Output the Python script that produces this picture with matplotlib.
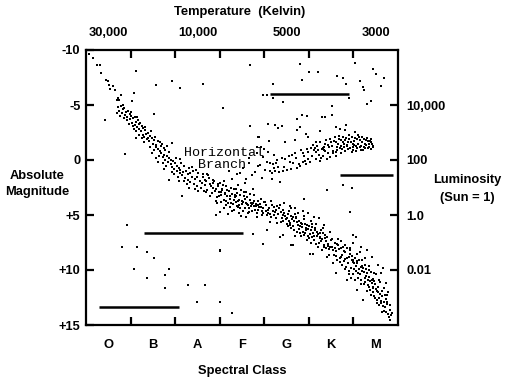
import numpy as np
import matplotlib
matplotlib.use("Agg")
import matplotlib.pyplot as plt

# --- data: (spectral position on a 0..7 scale, absolute magnitude) ---
upper_main_seq = [
    (0.07, -9.6), (0.15, -9.3), (0.24, -8.6), (0.31, -8.6), (0.34, -7.9), (0.45, -7.3),
    (0.49, -7.2), (0.52, -6.8), (0.54, -6.5), (0.60, -6.7), (0.64, -6.4), (0.71, -5.6),
    (0.75, -5.5), (0.69, -5.5), (0.79, -5.9), (1.03, -5.4),
    (0.72, -4.8), (0.78, -4.9), (0.74, -4.5), (0.82, -4.6), (0.86, -4.7), (0.80, -4.3),
    (0.90, -4.4), (0.95, -4.5), (0.88, -4.1), (0.98, -4.2), (1.02, -4.0), (0.93, -3.9),
    (1.06, -3.8), (0.99, -3.7), (1.10, -3.9), (1.12, -3.5), (1.04, -3.4), (1.17, -3.6),
    (1.09, -3.2), (1.20, -3.3), (1.14, -3.0), (1.25, -3.1), (1.18, -2.8), (1.28, -2.9),
    (1.23, -2.6), (1.32, -2.7), (1.35, -2.4), (1.27, -2.3), (1.40, -2.5), (1.30, -2.1),
    (1.44, -2.2), (1.36, -1.9), (1.48, -2.0), (1.42, -1.7), (1.52, -1.8), (1.50, -1.5),
    (1.58, -1.4), (1.66, -1.6), (1.58, -1.2), (1.68, -1.3), (1.62, -1.0), (1.74, -1.1),
    (1.66, -0.8), (1.78, -0.9),
    (0.70, -4.3), (0.84, -5.0), (0.76, -4.0), (0.91, -3.6), (1.00, -4.4), (0.85, -3.8),
    (1.05, -3.1), (1.15, -3.9), (0.97, -3.3), (1.13, -2.6), (1.22, -3.4), (1.08, -2.8),
    (1.26, -2.0), (1.33, -3.0), (1.19, -2.3), (1.38, -2.0), (1.45, -2.6), (1.31, -1.6),
    (1.55, -2.1), (1.43, -1.2), (1.61, -1.7), (1.53, -0.9), (1.70, -1.5), (1.49, -0.6),
    (1.64, -0.4), (1.81, -1.3), (1.57, -0.2), (1.73, 0.3), (1.87, -0.7), (1.62, 0.2),
]

main_seq_b = [
    (1.68, -0.6), (1.76, -0.5), (1.72, -0.3), (1.82, -0.4), (1.86, -0.2), (1.78, 0.0),
    (1.90, 0.0), (1.84, 0.2), (1.95, 0.1), (1.90, 0.4), (1.99, 0.3), (1.80, 0.5),
    (1.94, 0.6), (2.04, 0.5), (2.09, 0.7), (1.98, 0.8), (2.12, 0.9), (2.04, 1.0),
    (2.18, 1.1), (2.24, 1.0), (2.10, 1.2), (2.28, 1.3), (2.16, 1.4), (2.34, 1.2),
    (2.22, 1.6), (2.38, 1.5), (2.28, 1.8), (2.44, 1.7), (2.50, 1.5), (2.34, 2.0),
    (2.55, 1.9), (2.42, 2.2), (2.60, 2.1), (2.66, 1.8), (2.48, 2.4), (1.92, 1.1),
    (2.30, 0.7), (2.40, 1.0), (2.20, 0.5), (2.52, 1.2), (2.06, 1.5), (2.14, 0.3),
    (1.87, 1.8), (2.15, 3.3),
    (1.76, 0.8), (2.01, -0.2), (2.08, 1.9), (2.26, 2.2), (2.37, 0.6), (2.19, 1.9),
    (2.47, 0.9), (2.58, 2.5), (2.32, 2.5), (2.63, 1.3), (2.70, 2.9), (2.52, 2.8),
    (1.97, 1.3), (2.11, -0.1), (2.44, 2.6), (2.74, 1.4),
]

main_seq_c = [
    (2.62, 1.5), (2.66, 2.3), (2.70, 1.9), (2.72, 2.7), (2.76, 1.6), (2.78, 2.2),
    (2.82, 3.0), (2.85, 2.5), (2.88, 1.9), (2.90, 2.8), (2.93, 3.4), (2.96, 2.4),
    (2.98, 2.9), (3.01, 2.1), (3.04, 3.2), (3.06, 2.7), (3.09, 3.6), (3.11, 3.0),
    (3.14, 2.4), (3.16, 3.3), (3.19, 3.9), (3.21, 2.8), (3.24, 3.5), (3.27, 3.1),
    (3.29, 4.0), (3.31, 2.6), (3.34, 3.4), (3.36, 3.8), (3.39, 3.0), (3.41, 4.3),
    (3.44, 3.6), (3.46, 3.2), (3.49, 4.0), (3.51, 3.7), (3.54, 2.9), (3.56, 4.4),
    (3.59, 3.9), (3.61, 3.4), (3.64, 4.1), (3.66, 4.7), (3.69, 3.6), (3.71, 4.2),
    (3.74, 3.9), (3.76, 3.2), (3.79, 4.5), (3.81, 4.0), (3.84, 4.8), (3.86, 3.7),
    (3.89, 4.3), (3.91, 4.0), (3.94, 5.0), (3.96, 4.4), (3.99, 3.8),
    (3.12, 3.1), (3.22, 3.3), (3.32, 3.6), (3.42, 3.7), (3.52, 3.8), (3.62, 4.0),
    (3.72, 4.0), (3.82, 4.2), (3.92, 4.3), (3.02, 2.9), (2.92, 2.6), (2.80, 2.4),
    (3.47, 5.1), (3.28, 4.6), (3.60, 5.2), (2.95, 3.9), (3.36, 2.6), (3.58, 2.9),
    (2.92, 5.0), (3.00, 4.7), (3.18, 4.9), (3.43, 4.8), (3.10, 4.4),
    (2.64, 2.8), (2.71, 1.3), (2.79, 3.3), (2.86, 1.8), (2.91, 3.7), (2.97, 2.2),
    (3.03, 3.8), (3.07, 2.3), (3.13, 4.1), (3.17, 2.7), (3.23, 4.3), (3.26, 2.5),
    (3.33, 4.5), (3.37, 3.3), (3.43, 4.1), (3.48, 2.7), (3.53, 4.6), (3.57, 3.5),
    (3.63, 4.8), (3.67, 3.1), (3.73, 4.6), (3.77, 3.7), (3.83, 5.2), (3.87, 4.1),
    (3.93, 3.5), (3.97, 4.8), (3.05, 2.6), (3.15, 3.7), (3.25, 3.9), (3.35, 3.2),
    (3.45, 4.4), (3.55, 3.3), (3.65, 4.4), (3.70, 3.9), (3.78, 4.2), (3.85, 4.5),
    (3.95, 4.6), (2.84, 2.1), (2.99, 3.3), (3.38, 4.2),
]

main_seq_d = [
    (4.03, 4.1), (4.37, 5.6), (4.71, 5.2), (5.18, 6.9), (4.09, 4.8), (4.56, 4.6),
    (4.92, 6.6), (5.41, 7.0), (4.22, 4.3), (4.83, 5.7), (5.06, 5.8), (5.33, 7.9),
    (4.14, 3.7), (4.48, 5.4), (4.97, 6.9), (5.27, 6.4), (4.31, 4.9), (4.64, 6.0),
    (5.12, 7.3), (5.46, 8.1), (4.06, 5.0), (4.43, 4.5), (4.78, 6.3), (5.23, 7.5),
    (4.19, 4.6), (4.59, 5.1), (4.88, 5.4), (5.37, 6.8), (4.27, 5.3), (4.69, 4.9),
    (5.01, 7.1), (5.49, 7.3), (4.11, 4.4), (4.52, 5.8), (4.95, 5.9), (5.14, 6.2),
    (4.35, 4.1), (4.74, 5.6), (5.09, 6.6), (5.44, 7.6), (4.02, 3.8), (4.41, 5.0),
    (4.86, 6.5), (5.29, 7.2), (4.24, 4.7), (4.62, 5.4), (5.04, 6.4), (5.39, 7.4),
    (4.16, 5.2), (4.54, 4.9), (4.81, 6.0), (5.21, 6.7), (4.33, 4.4), (4.67, 5.5),
    (4.99, 6.3), (5.31, 6.6), (4.08, 4.5), (4.47, 5.1), (4.91, 5.8), (5.16, 7.6),
    (4.29, 4.2), (4.76, 5.9), (5.11, 6.9), (5.47, 7.9), (4.13, 4.9), (4.58, 5.7),
    (4.84, 6.1), (5.26, 7.0), (4.38, 4.7), (4.72, 5.3), (5.07, 6.1), (5.35, 7.7),
    (4.21, 5.0), (4.61, 6.2), (4.94, 6.2), (5.19, 6.5), (4.45, 4.8), (4.79, 5.5),
    (5.02, 6.7), (5.42, 7.8), (4.26, 4.5), (4.65, 5.2), (4.89, 6.8), (5.24, 7.1),
    (4.04, 4.6), (4.50, 5.3), (4.85, 5.8), (5.13, 6.4), (4.39, 5.3), (4.73, 6.5),
    (5.08, 7.0), (5.36, 7.1), (4.18, 4.1), (4.55, 5.5), (4.93, 6.4), (5.28, 7.4),
    (4.65, 7.7), (5.03, 8.5), (3.75, 6.7), (4.05, 6.4), (3.98, 7.6), (3.00, 8.2),
    (4.35, 7.0), (4.61, 7.7), (5.10, 8.5), (4.43, 6.8),
    (4.44, 3.9), (4.68, 4.4), (4.98, 4.8), (5.22, 5.3), (4.87, 4.6), (5.34, 5.9),
    (4.57, 4.2), (5.11, 5.2),
    (4.53, 6.0), (4.66, 6.4), (4.82, 6.9), (4.96, 7.3), (5.05, 7.5), (5.20, 7.9),
    (5.30, 8.2), (5.45, 8.6), (4.60, 4.4), (4.75, 4.8), (4.90, 5.1), (5.04, 5.5),
    (5.17, 5.8), (5.32, 6.2), (5.48, 6.5), (4.42, 5.5), (4.57, 5.9), (4.80, 6.6),
    (5.00, 6.0), (5.25, 6.6), (5.38, 8.0), (4.28, 5.7), (4.13, 5.6), (4.70, 6.9),
]

main_seq_e = [
    (5.53, 7.2), (5.88, 9.4), (6.21, 9.8), (6.47, 11.0), (5.61, 8.3), (5.97, 8.7),
    (6.33, 11.4), (6.58, 12.5), (5.72, 7.4), (6.06, 10.1), (6.39, 10.2), (6.71, 13.4),
    (5.57, 8.6), (5.92, 8.2), (6.26, 11.1), (6.53, 12.7), (5.66, 7.7), (6.01, 9.9),
    (6.35, 10.6), (6.63, 11.9), (5.79, 9.2), (6.13, 9.1), (6.44, 12.0), (6.77, 14.0),
    (5.51, 7.9), (5.85, 8.0), (6.18, 10.9), (6.49, 11.3), (5.69, 8.9), (6.09, 9.4),
    (6.41, 10.9), (6.68, 12.9), (5.76, 7.9), (6.15, 10.4), (6.29, 9.9), (6.56, 11.5),
    (5.63, 9.1), (5.99, 9.3), (6.37, 11.8), (6.61, 13.0), (5.81, 8.4), (6.03, 8.9),
    (6.24, 10.2), (6.73, 12.6), (5.59, 7.5), (5.94, 9.8), (6.31, 10.3), (6.52, 11.9),
    (5.74, 8.6), (6.11, 10.7), (6.45, 11.5), (6.66, 13.3), (5.55, 8.2), (5.90, 8.8),
    (6.19, 9.6), (6.81, 13.6), (5.83, 9.7), (6.07, 9.2), (6.42, 11.2), (6.59, 12.2),
    (5.67, 8.1), (6.00, 10.4), (6.27, 10.7), (6.75, 13.1), (5.78, 8.3), (6.16, 9.7),
    (6.38, 11.0), (6.64, 12.4), (5.86, 8.9), (6.05, 9.6), (6.34, 10.0), (6.84, 14.1),
    (5.64, 7.6), (5.96, 9.1), (6.23, 11.3), (6.50, 11.7), (5.71, 8.8), (6.12, 9.9),
    (6.46, 12.4), (6.70, 12.3), (5.89, 10.1), (6.20, 10.1), (6.36, 11.5), (6.79, 14.3),
    (5.58, 8.0), (5.93, 8.5), (6.28, 10.5), (6.55, 12.0), (5.82, 9.0), (6.10, 10.3),
    (6.43, 11.6), (6.62, 12.8), (5.75, 9.5), (6.02, 9.4), (6.32, 10.9), (6.72, 13.8),
    (6.86, 13.9), (6.82, 14.5), (6.69, 13.7), (6.76, 12.9), (6.57, 13.2), (6.48, 12.5),
    (6.30, 8.2), (6.41, 8.8), (6.55, 9.5), (6.67, 9.8), (6.62, 10.3), (6.72, 11.2),
    (6.78, 12.0), (6.05, 7.0), (6.18, 7.9), (5.98, 7.5), (5.40, 8.8), (5.55, 9.4),
    (5.85, 10.9), (6.07, 11.8), (5.62, 10.3), (6.22, 12.7), (6.00, 6.8), (6.51, 10.4),
    (6.60, 11.1), (6.25, 8.9), (6.14, 8.4), (5.95, 10.7),
    (5.60, 8.7), (5.70, 9.3), (5.80, 9.9), (5.91, 10.4), (6.04, 10.9), (6.17, 11.3),
    (6.30, 11.9), (6.40, 12.3), (6.52, 13.0), (6.65, 13.8), (5.65, 7.2), (5.80, 7.7),
    (5.92, 8.0), (6.08, 8.5), (6.20, 9.1), (6.35, 9.6), (6.46, 10.3), (6.58, 10.9),
    (6.68, 11.6), (6.75, 12.3), (6.83, 13.2), (5.73, 8.0), (6.00, 9.1), (6.26, 9.5),
    (6.45, 10.8),
]

giants = [
    (4.13, 1.0), (4.58, 0.2), (5.07, -0.4), (5.63, -1.2), (6.11, -1.5), (4.21, 0.7),
    (4.69, -0.6), (5.19, -1.3), (5.71, -0.6), (6.23, -1.9), (4.34, 1.1), (4.77, 0.4),
    (5.28, -0.2), (5.82, -1.8), (6.36, -1.2), (4.27, 0.3), (4.83, -0.9), (5.36, -1.5),
    (5.88, -1.0), (6.04, -2.0), (4.44, 0.6), (4.92, 0.1), (5.43, -0.6), (5.94, -1.6),
    (6.42, -1.5), (4.17, 1.2), (4.61, 0.8), (5.12, -0.9), (5.57, -1.7), (6.17, -0.9),
    (4.39, -0.2), (4.86, 0.2), (5.31, -1.1), (5.77, -2.1), (6.29, -1.4), (4.51, 0.9),
    (4.98, -0.7), (5.48, -0.3), (5.99, -1.2), (6.33, -1.7), (4.24, 1.0), (4.72, -0.2),
    (5.22, -0.5), (5.68, -1.9), (6.08, -1.1), (4.47, -0.1), (4.95, -1.0), (5.39, -1.8),
    (5.85, -1.3), (6.39, -1.0), (4.31, 0.6), (4.81, 0.5), (5.26, -1.6), (5.74, -1.0),
    (6.20, -1.6), (4.55, -0.4), (5.03, 0.2), (5.52, -1.3), (5.96, -2.1), (6.26, -1.1),
    (4.19, 0.4), (4.65, 0.3), (5.15, -0.1), (5.60, -0.4), (6.14, -1.8), (4.42, 1.0),
    (4.89, -0.4), (5.34, -0.9), (5.79, -1.5), (6.31, -2.0), (4.63, -0.5), (5.09, -1.4),
    (5.55, -0.8), (6.01, -1.4), (6.44, -1.3), (4.74, 0.7), (5.17, -0.7), (5.66, -1.5),
    (6.06, -0.8), (5.24, 0.1), (5.72, -1.3), (6.18, -1.3), (5.46, -1.2), (5.91, -1.9),
    (6.35, -1.5), (5.32, -0.4), (5.81, -0.8), (6.24, -1.2), (5.58, -2.1), (6.02, -1.7),
    (5.13, -1.1), (5.64, -0.9), (6.12, -2.1), (5.41, -0.1), (5.87, -1.6), (6.28, -1.8),
    (5.50, -1.6), (5.97, -0.7), (6.40, -1.6), (5.20, -0.9), (5.69, -1.1), (6.15, -1.2),
    (5.05, -1.1), (5.76, -1.6), (6.21, -0.9), (5.37, -0.8), (5.84, -2.0), (6.32, -1.1),
    (5.61, -1.6), (6.09, -1.9), (5.29, -1.0), (5.93, -1.1), (4.99, -0.1), (5.54, -0.6),
    (6.00, -0.9), (4.87, -0.6), (5.44, -1.4), (5.89, -2.3), (6.37, -1.7), (5.16, -1.6),
    (5.67, -2.2), (6.25, -1.5), (4.93, 0.4), (5.48, -1.9), (5.78, -1.2), (6.05, -1.3),
    (6.19, -2.1), (5.99, -1.5), (5.86, -1.4), (5.73, -1.8), (5.62, -0.7), (5.35, -1.2),
]

horizontal_branch = [
    (3.46, 1.2), (3.53, 0.75), (3.60, 1.7), (3.66, 0.3), (3.72, 1.4), (3.79, 1.1),
    (3.83, -0.6), (3.86, 0.5), (3.90, 0.45), (3.94, 1.6), (3.98, -0.3), (4.02, 0.9),
    (4.05, 0.15), (4.08, -0.7), (4.12, 0.3), (4.17, 1.7), (4.22, -0.5), (4.28, 0.0),
    (4.35, 2.0), (3.75, 2.6), (3.20, 1.0), (3.38, 1.3), (3.56, 2.1), (3.10, 1.9),
    (3.42, 2.3), (3.28, 1.7), (3.65, -0.2), (3.92, -1.2), (4.00, -1.0),
]

scattered = [
    (0.43, -3.67), (0.88, -0.55), (1.12, -2.0), (1.12, -8.06), (1.08, -6.1), (1.57, -6.85),
    (1.93, -7.2), (2.11, -6.55), (2.63, -6.9), (3.08, -4.7), (1.53, -4.2), (1.94, -1.55),
    (3.68, -8.6), (3.68, -3.1), (3.89, -2.1), (3.83, -1.2), (4.80, -8.7), (5.00, -8.0),
    (5.20, -7.97), (4.85, -7.24), (4.19, -6.94), (5.64, -7.6), (5.77, -7.5), (5.83, -6.94),
    (6.03, -8.8), (6.43, -8.3), (6.51, -7.8), (6.69, -7.5), (6.15, -7.15), (6.21, -6.6),
    (6.24, -6.4), (6.62, -6.7), (3.98, -5.9), (4.07, -5.9), (4.20, -5.6), (4.43, -5.27),
    (5.91, -5.6), (6.30, -5.1), (6.39, -5.4), (5.53, -4.88), (4.84, -4.1), (4.74, -3.7),
    (4.95, -3.97), (5.29, -3.9), (5.36, -3.9), (5.53, -4.1), (4.09, -3.27), (4.24, -3.2),
    (4.31, -2.9), (4.39, -3.06), (4.80, -2.97), (4.74, -2.75), (4.94, -2.36), (4.99, -2.06),
    (5.25, -2.67), (5.62, -3.0), (5.70, -2.85), (5.81, -2.76), (5.83, -3.2), (6.04, -2.55),
    (6.11, -2.24), (3.87, -2.06), (4.11, -1.75), (4.46, -1.64), (4.69, -1.85), (6.39, -1.94),
    (6.43, -1.15), (5.77, 2.3), (5.96, 2.5), (5.40, 2.7), (5.92, 4.7), (4.88, 3.5),
]

white_dwarfs = [
    (0.93, 5.9), (0.81, 7.94), (1.14, 7.9), (1.36, 8.4), (1.53, 8.9), (1.08, 9.9),
    (1.36, 10.75), (1.78, 10.45), (1.87, 9.94), (1.77, 11.6), (2.28, 11.4), (2.68, 11.36),
    (3.00, 8.25), (2.49, 12.9), (3.00, 12.9), (3.28, 13.9),
]

# horizontal bars: (magnitude, x start, x end)
segments = [(-6.0, 4.13, 5.90), (1.36, 5.70, 6.89), (6.6, 1.30, 3.52), (13.4, 0.29, 2.09)]

spectral_classes = ["O", "B", "A", "F", "G", "K", "M"]
temp_labels = ["30,000", "10,000", "5000", "3000"]
lum_ticks = [-5, 0, 5, 10]
lum_labels = ["10,000", "100", "1.0", "0.01"]
mag_ticks = [-10, -5, 0, 5, 10, 15]
mag_labels = ["-10", "-5", "0", "+5", "+10", "+15"]

plt.rcParams["font.family"] = ["Liberation Sans", "DejaVu Sans"]
plt.rcParams["font.weight"] = "bold"
plt.rcParams["axes.labelweight"] = "bold"
fs = 9.3

fig = plt.figure(figsize=(5.14, 3.85), dpi=100)
ax = fig.add_axes([86 / 514, 60 / 385, 312 / 514, 275 / 385])

groups = [upper_main_seq, main_seq_b, main_seq_c, main_seq_d, main_seq_e,
          giants, horizontal_branch, scattered, white_dwarfs]
for g in groups:
    arr = np.array(g)
    ax.scatter(arr[:, 0], arr[:, 1], s=1.7, marker="s", c="black", linewidths=0)

for mag, x0, x1 in segments:
    ax.hlines(mag, x0, x1, colors="black", linewidth=1.8)

ax.text(3.10, -0.6, "Horizontal", family="Liberation Mono", fontweight="normal",
        fontsize=9.6, ha="center", va="center")
ax.text(3.06, 0.42, "Branch", family="Liberation Mono", fontweight="normal",
        fontsize=9.6, ha="center", va="center")

ax.set_xlim(0, 7)
ax.set_ylim(15, -10)
for s in ax.spines.values():
    s.set_linewidth(1.6)

ax.set_xticks(range(1, 7))
ax.set_xticklabels([])
ax.set_xticks(np.arange(0.5, 7, 1), minor=True)
ax.set_xticklabels(spectral_classes, minor=True, fontsize=fs)
ax.tick_params(axis="x", which="major", direction="in", length=6, width=1.6,
               top=True, bottom=True)
ax.tick_params(axis="x", which="minor", length=0, pad=10)
ax.set_yticks(mag_ticks)
ax.set_yticklabels(mag_labels, fontsize=fs)
ax.tick_params(axis="y", direction="in", length=6, width=1.6, pad=4)

top = ax.secondary_xaxis("top")
top.set_xticks([0.5, 2.5, 4.5, 6.5])
top.set_xticklabels(temp_labels, fontsize=fs)
top.tick_params(length=0, pad=8)
top.spines["top"].set_visible(False)

right = ax.secondary_yaxis("right")
right.set_yticks(lum_ticks)
right.set_yticklabels(lum_labels, fontsize=fs)
right.tick_params(direction="in", length=6, width=1.6, pad=6)
right.spines["right"].set_visible(False)

ax.set_xlabel("Spectral Class", fontsize=fs, labelpad=10)
fig.text(240 / 514, 1 - 12 / 385, "Temperature  (Kelvin)", ha="center", va="center", fontsize=fs)
fig.text(37 / 514, 1 - 184 / 385, "Absolute\nMagnitude", ha="center", va="center",
         fontsize=fs, linespacing=1.45)
fig.text(467 / 514, 1 - 189 / 385, "Luminosity\n(Sun = 1)", ha="center", va="center",
         fontsize=fs, linespacing=1.65)

fig.savefig("out.png", dpi=100)
